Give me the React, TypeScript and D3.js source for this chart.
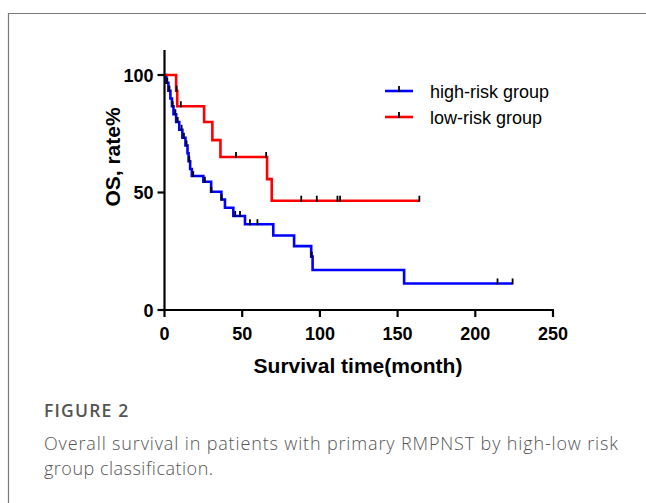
import React from "react";
import * as d3 from "d3";

// Kaplan-Meier steps (time in months, survival %)
const lowTimes = [0, 7.5, 8.2, 25.5, 30.8, 36, 66, 69, 164];
const lowSurv = [100, 93.3, 86.7, 80, 72.3, 65.1, 55.7, 46.5, 46.5];
const lowCensor = [7.8, 10.5, 46, 65.4, 88, 98, 111.3, 113, 164];

const highTimes = [0, 1.2, 2.5, 3.8, 4.8, 5.8, 7.5, 9.5, 11.5, 13.5, 14.8, 15.5, 16.5, 17.6, 25, 30, 36.6, 38.9, 44.3, 51.8, 70, 83.4, 94.4, 95.3, 154.2, 224];
const highSurv = [100, 96.7, 93.3, 90, 86.7, 83.3, 80, 76.7, 73.3, 70, 66.7, 63.3, 60, 57, 54.6, 50.3, 47, 43.5, 40, 36.5, 31.7, 27.2, 22.7, 17, 11.3, 11.3];
const highCensor = [1.8, 3.2, 5.3, 7, 8.5, 11, 12.5, 14.2, 16, 18.5, 26, 30.2, 36.8, 45.5, 48.6, 55, 59.8, 94.8, 214.3, 224];

const xTicks = [0, 50, 100, 150, 200, 250];
const yTicks = [0, 50, 100];

const groups = [
  { name: "high-risk group", color: "#0000ff", times: highTimes, surv: highSurv, censor: highCensor },
  { name: "low-risk group", color: "#ff0000", times: lowTimes, surv: lowSurv, censor: lowCensor },
];

const x = d3.scaleLinear().domain([0, 250]).range([164.5, 553]);
const y = d3.scaleLinear().domain([0, 100]).range([310, 75]);

function survAt(times: number[], surv: number[], t: number) {
  let i = d3.bisectRight(times, t) - 1;
  if (i < 0) i = 0;
  return surv[i];
}

const line = d3
  .line<[number, number]>()
  .x((d) => x(d[0]))
  .y((d) => y(d[1]))
  .curve(d3.curveStepAfter);

export default function App() {
  const axisFont = "'Liberation Sans', Arial, sans-serif";
  const capFont = "'Open Sans', Lato, sans-serif";
  return (
    <svg
      width={646}
      height={503}
      style={{ position: "absolute", left: 0, top: 0, background: "#fff" }}
    >
      {/* figure frame */}
      <path d="M8.5,503 V13.5 H646" fill="none" stroke="#7a7a7a" strokeWidth={1.2} />

      {/* curves */}
      {groups.map((g) => (
        <g key={g.name}>
          <path
            d={line(g.times.map((t, i) => [t, g.surv[i]] as [number, number])) || ""}
            fill="none"
            stroke={g.color}
            strokeWidth={2.6}
          />
          {g.censor.map((t, i) => {
            const cy = y(survAt(g.times, g.surv, t));
            return (
              <line key={i} x1={x(t)} x2={x(t)} y1={cy - 5} y2={cy + 1} stroke="#000" strokeWidth={1.8} />
            );
          })}
        </g>
      ))}

      {/* axes */}
      <g stroke="#000" strokeWidth={2.2} fill="none">
        <line x1={x(0)} x2={x(0)} y1={y(0) + 1} y2={y(110.6)} />
        <line x1={x(0) - 1} x2={x(250) + 1} y1={y(0)} y2={y(0)} />
        {yTicks.map((v) => (
          <line key={"yt" + v} x1={x(0) - 7} x2={x(0)} y1={y(v)} y2={y(v)} />
        ))}
        {xTicks.map((v) => (
          <line key={"xt" + v} x1={x(v)} x2={x(v)} y1={y(0)} y2={y(0) + 7} />
        ))}
      </g>
      <g fontFamily={axisFont} fontWeight="bold" fontSize={18} fill="#000">
        {yTicks.map((v) => (
          <text key={"yl" + v} x={x(0) - 11} y={y(v) + 6.5} textAnchor="end">
            {v}
          </text>
        ))}
        {xTicks.map((v) => (
          <text key={"xl" + v} x={x(v)} y={340} textAnchor="middle">
            {v}
          </text>
        ))}
      </g>
      <text x={358} y={373} textAnchor="middle" fontFamily={axisFont} fontWeight="bold" fontSize={21}>
        Survival time(month)
      </text>
      <text
        transform="translate(120,157) rotate(-90)"
        textAnchor="middle"
        fontFamily={axisFont}
        fontWeight="bold"
        fontSize={21}
      >
        OS, rate%
      </text>

      {/* legend */}
      {groups.map((g, i) => (
        <g key={"lg" + i} transform={`translate(0,${91 + i * 26})`}>
          <line x1={385} x2={413} y1={0} y2={0} stroke={g.color} strokeWidth={2.6} />
          <line x1={399} x2={399} y1={-5} y2={1} stroke="#000" strokeWidth={1.8} />
          <text x={430} y={6.5} fontFamily={axisFont} fontSize={18} fill="#000">
            {g.name}
          </text>
        </g>
      ))}

      {/* caption */}
      <text x={44} y={417} fontFamily={capFont} fontWeight={600} fontSize={17.5} letterSpacing={1.2} fill="#555">
        FIGURE 2
      </text>
      <text
        x={44}
        y={450}
        fontFamily={capFont}
        fontWeight={300}
        fontSize={18}
        fill="#555"
        textLength={574}
        lengthAdjust="spacing"
      >
        Overall survival in patients with primary RMPNST by high-low risk
      </text>
      <text x={44} y={475} fontFamily={capFont} fontWeight={300} fontSize={18} letterSpacing={0.5} fill="#555">
        group classification.
      </text>
    </svg>
  );
}
